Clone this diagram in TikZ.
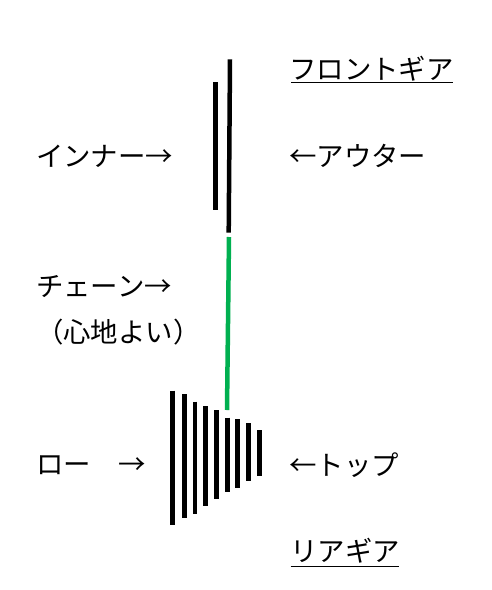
\documentclass[tikz,border=0pt]{standalone}
\usepackage{fontspec}
\newfontfamily\jp{Noto Sans CJK JP}
\definecolor{chaingreen}{HTML}{00B050}
\begin{document}
\begin{tikzpicture}[x=1pt,y=-1pt,
  lbl/.style={anchor=west,inner sep=0pt,font=\jp\fontsize{27.4}{27.4}\selectfont},
  gearbar/.style={line width=4.5pt,black},
  chainbar/.style={line width=4.5pt,chaingreen},
  uline/.style={line width=1pt,black}]
\useasboundingbox (0,0) rectangle (491,590);
% front gear
\draw[gearbar] (215.3,82.3) -- (215.3,210);
\draw[gearbar] (230,59.3) -- (228.7,232.7);
% chain
\draw[chainbar] (229,237) -- (227,410);
% rear gear
\foreach \x/\a/\b in {172.3/390.7/525, 184.3/394.3/518.3, 195/401.7/514,
  205.3/406/505.7, 216.3/410/499, 227.3/417.7/491.7, 237.3/419.3/487.7,
  248.3/423.3/481, 259.3/430/475.7}
  \draw[gearbar] (\x,\a) -- (\x,\b);
% labels
\node[lbl] (front) at (289,69) {フロントギア};
\draw[uline] (291,82.3) -- (453,82.3);
\node[lbl] (inner) at (36,156) {インナー→};
\node[lbl] (outer) at (289,156) {←アウター};
\node[lbl] (chain) at (36,287) {チェーン→};
\node[lbl] (feel) at (36,332) {（心地よい）};
\node[lbl] (low) at (36,465) {ロー　→};
\node[lbl] (top) at (289,465) {←トップ};
\node[lbl] (rear) at (290,551) {リアギア};
\draw[uline] (290.7,566) -- (399,566);
\end{tikzpicture}
\end{document}
